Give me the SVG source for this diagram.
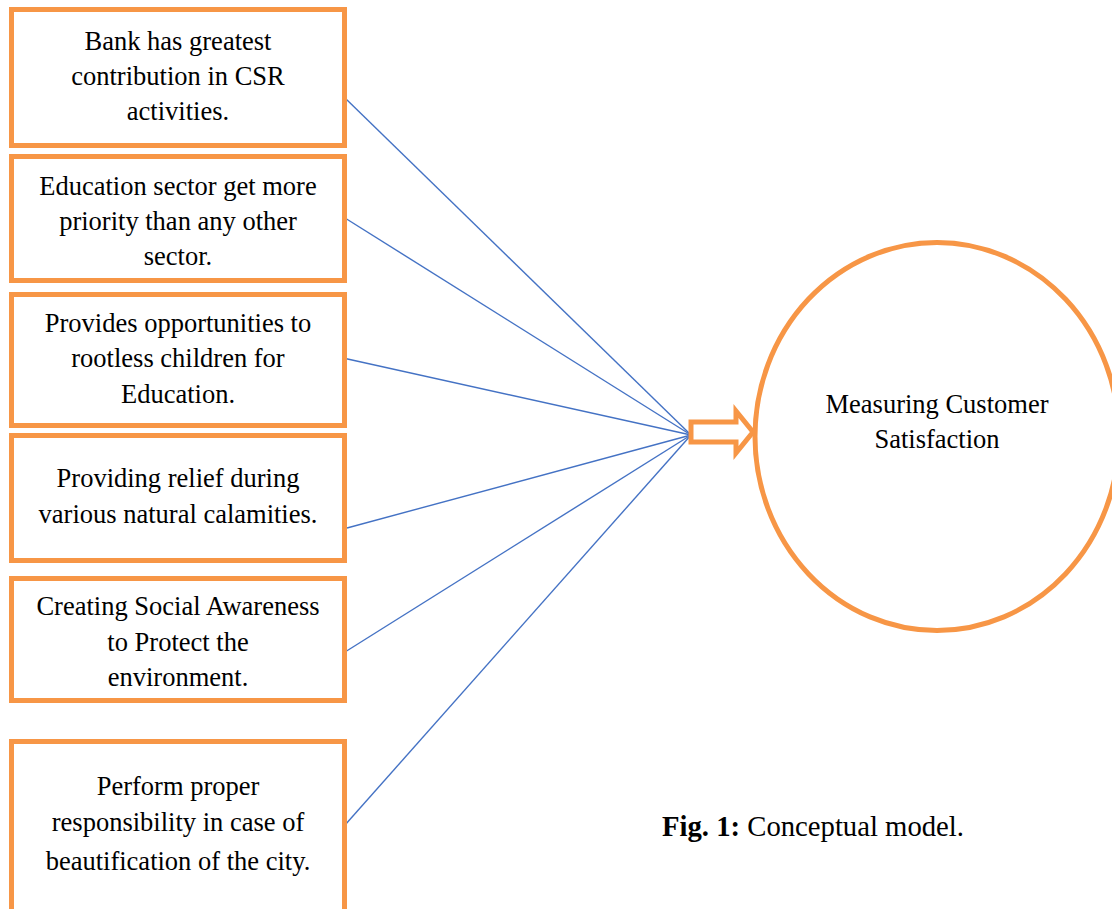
<svg xmlns="http://www.w3.org/2000/svg" width="1112" height="909" viewBox="0 0 1112 909">
<style>
.box{fill:#fff;stroke:#F79646;stroke-width:5}
.t{font-family:"Liberation Serif","Times New Roman",serif;font-size:26.5px;fill:#000;text-anchor:middle}
.c{stroke:#4472C4;stroke-width:1.4;fill:none}
</style>
<rect width="1112" height="909" fill="#fff"/>
<g id="connectors">
<line class="c" x1="345" y1="98" x2="691" y2="435"/>
<line class="c" x1="345" y1="218" x2="691" y2="435"/>
<line class="c" x1="343" y1="358" x2="691" y2="435" stroke-width="2"/>
<line class="c" x1="347" y1="528" x2="691" y2="435"/>
<line class="c" x1="345" y1="652" x2="691" y2="435"/>
<line class="c" x1="345" y1="825" x2="691" y2="435"/>
</g>
<g id="n1">
<rect class="box" x="11.5" y="9.5" width="333" height="136"/>
<text class="t" x="178" y="50">Bank has greatest</text>
<text class="t" x="178" y="85">contribution in CSR</text>
<text class="t" x="178" y="120">activities.</text>
</g>
<g id="n2">
<rect class="box" x="11.5" y="156.5" width="333" height="124"/>
<text class="t" x="178" y="195">Education sector get more</text>
<text class="t" x="178" y="230">priority than any other</text>
<text class="t" x="178" y="265">sector.</text>
</g>
<g id="n3">
<rect class="box" x="11.5" y="294.5" width="333" height="131"/>
<text class="t" x="178" y="332">Provides opportunities to</text>
<text class="t" x="178" y="367">rootless children for</text>
<text class="t" x="178" y="403">Education.</text>
</g>
<g id="n4">
<rect class="box" x="11.5" y="435.5" width="333" height="125"/>
<text class="t" x="178" y="487">Providing relief during</text>
<text class="t" x="178" y="523">various natural calamities.</text>
</g>
<g id="n5">
<rect class="box" x="11.5" y="578.5" width="333" height="122"/>
<text class="t" x="178" y="615">Creating Social Awareness</text>
<text class="t" x="178" y="651">to Protect the</text>
<text class="t" x="178" y="686">environment.</text>
</g>
<g id="n6">
<rect class="box" x="11.5" y="741.5" width="333" height="220"/>
<text class="t" x="178" y="795">Perform proper</text>
<text class="t" x="178" y="831">responsibility in case of</text>
<text class="t" x="178" y="870">beautification of the city.</text>
</g>
<g id="arrow">
<polygon points="691,422 736,422 736,411 753,432 736,453 736,442 691,442" fill="#fff" stroke="#F79646" stroke-width="5"/>
</g>
<g id="target">
<ellipse cx="937" cy="436.5" rx="182" ry="194" fill="none" stroke="#F79646" stroke-width="5"/>
<text class="t" x="937" y="413">Measuring Customer</text>
<text class="t" x="937" y="448">Satisfaction</text>
</g>
<g id="caption">
<text x="662" y="836" font-family="'Liberation Serif','Times New Roman',serif" font-size="28.7" fill="#000"><tspan font-weight="bold">Fig. 1:</tspan> Conceptual model.</text>
</g>
</svg>
